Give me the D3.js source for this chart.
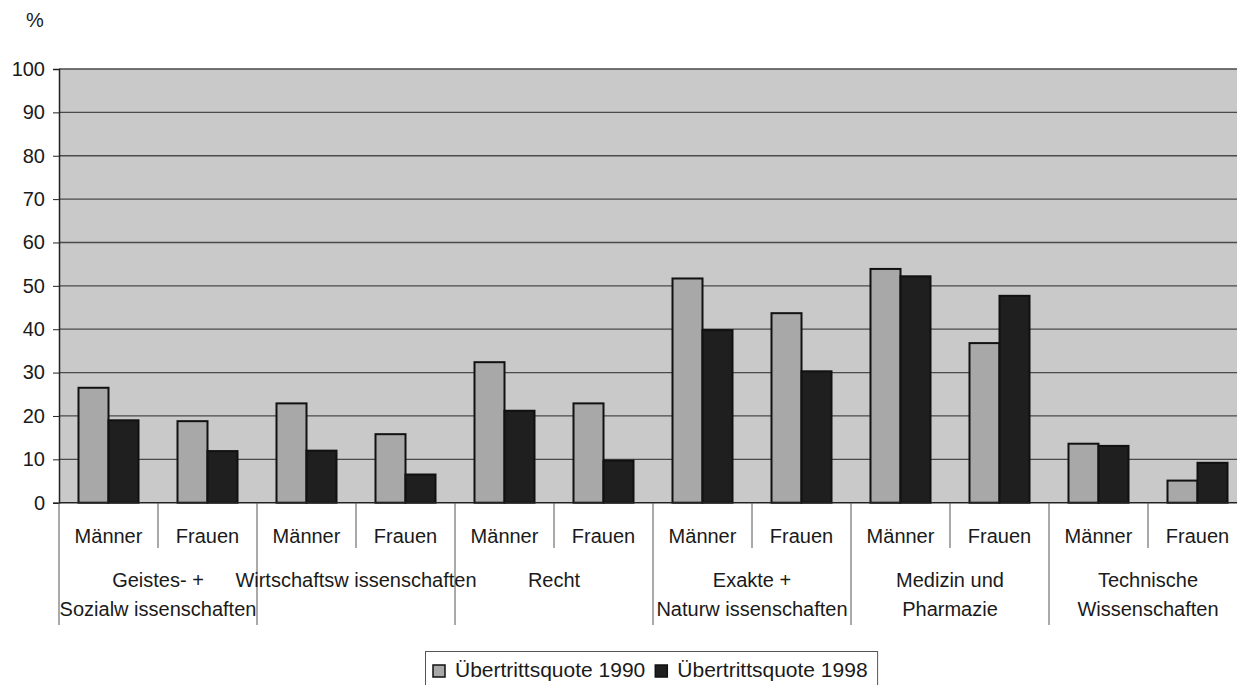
<!DOCTYPE html>
<html><head><meta charset="utf-8">
<script src="https://cdn.jsdelivr.net/npm/d3@7"></script>
<style>
html,body{margin:0;padding:0;background:#fff;overflow:hidden}
text{font-family:"Liberation Sans",Arial,sans-serif;fill:#1a1a1a}
</style></head>
<body>
<svg id="c" width="1237" height="685"></svg>
<script>
// ---- data ----
const groups = [
  ["Geistes- +", "Sozialw issenschaften"],
  ["Wirtschaftsw issenschaften"],
  ["Recht"],
  ["Exakte +", "Naturw issenschaften"],
  ["Medizin und", "Pharmazie"],
  ["Technische", "Wissenschaften"]
];
const genders = ["Männer", "Frauen"];
const seriesNames = ["Übertrittsquote 1990", "Übertrittsquote 1998"];
const v1990 = [26.5, 18.8, 22.9, 15.8, 32.4, 22.9, 51.7, 43.7, 53.9, 36.8, 13.6, 5.1];
const v1998 = [19.0, 11.9, 12.0, 6.5, 21.2, 9.7, 39.8, 30.3, 52.2, 47.7, 13.1, 9.2];
const yTicks = [0, 10, 20, 30, 40, 50, 60, 70, 80, 90, 100];

// ---- build ----
const cats = [];
groups.forEach((g, gi) => genders.forEach((s, si) => cats.push({id: gi + "-" + si, g: gi, label: s})));
const data = cats.map((c, i) => ({...c, vals: [v1990[i], v1998[i]]}));

const svg = d3.select("#c");
const pL = 59, pR = 1247, pT = 69, pB = 502.7;
const x0 = d3.scaleBand().domain(cats.map(c => c.id)).range([pL, pR]).padding(0);
const x1 = d3.scaleBand().domain([0, 1]).range([0, x0.bandwidth()]).paddingInner(0).paddingOuter(0.65);
const y = d3.scaleLinear().domain([0, 100]).range([pB, pT]);
const colors = ["#a8a8a8", "#1f1f1f"];

// background
svg.append("rect").attr("x", pL).attr("y", pT).attr("width", pR - pL).attr("height", pB - pT)
  .attr("fill", "#c9c9c9");

// gridlines
svg.append("g").selectAll("line").data(yTicks.filter(t => t > 0)).join("line")
  .attr("x1", pL).attr("x2", pR).attr("y1", d => y(d)).attr("y2", d => y(d))
  .attr("stroke", "#4a4a4a").attr("stroke-width", 1.3);

// y axis
const yAxis = d3.axisLeft(y).tickValues(yTicks).tickSize(6).tickPadding(8).tickFormat(d3.format("d"));
const ya = svg.append("g").attr("transform", `translate(${pL},0)`).call(yAxis);
ya.select(".domain").attr("stroke", "#222").attr("stroke-width", 1.5);
ya.selectAll(".tick line").attr("stroke", "#222");
ya.selectAll(".tick text").attr("font-size", 20).style("fill", "#1a1a1a");

// bars
const gBars = svg.append("g").selectAll("g").data(data).join("g")
  .attr("transform", d => `translate(${x0(d.id)},0)`);
gBars.selectAll("rect").data(d => d.vals.map((v, i) => ({v, i}))).join("rect")
  .attr("x", d => x1(d.i)).attr("width", x1.bandwidth())
  .attr("y", d => y(d.v)).attr("height", d => y(0) - y(d.v))
  .attr("fill", d => colors[d.i]).attr("stroke", "#111").attr("stroke-width", 2);

// x axis baseline
svg.append("line").attr("x1", pL).attr("x2", pR).attr("y1", pB).attr("y2", pB)
  .attr("stroke", "#222").attr("stroke-width", 1.5);

// category labels + ticks
const xAxis = d3.axisBottom(x0).tickSize(0).tickFormat(id => cats.find(c => c.id === id).label).tickPadding(26);
const xa = svg.append("g").attr("transform", `translate(0,${pB})`).call(xAxis);
xa.select(".domain").remove();
xa.selectAll(".tick text").attr("font-size", 20).style("fill", "#1a1a1a");

// dividers
const divs = [];
cats.forEach((c, i) => divs.push({x: x0(c.id), major: c.label === genders[0]}));
svg.append("g").selectAll("line").data(divs).join("line")
  .attr("x1", d => d.x).attr("x2", d => d.x)
  .attr("y1", pB).attr("y2", d => d.major ? 625 : 548)
  .attr("stroke", "#555").attr("stroke-width", 1);

// group labels
const gl = svg.append("g").selectAll("text").data(groups).join("text")
  .attr("x", (d, i) => x0(i + "-0") + x0.bandwidth())
  .attr("text-anchor", "middle").attr("font-size", 20);
gl.selectAll("tspan").data(d => d).join("tspan")
  .attr("x", function() { return this.parentNode.getAttribute("x"); })
  .attr("y", (d, i) => 587 + i * 29).text(d => d);

// % label
svg.append("text").attr("x", 35).attr("y", 27).attr("text-anchor", "middle").attr("font-size", 20).text("%");

// legend
const lg = svg.append("g");
const box = lg.append("rect").attr("x", 425.5).attr("y", 651.5).attr("height", 40)
  .attr("fill", "#fff").attr("stroke", "#555").attr("stroke-width", 1);
let lx = 433;
seriesNames.forEach((n, i) => {
  lg.append("rect").attr("x", lx).attr("y", 665).attr("width", 12).attr("height", 12)
    .attr("fill", colors[i]).attr("stroke", "#111").attr("stroke-width", 1.5);
  const t = lg.append("text").attr("x", lx + 22).attr("y", 677).attr("font-size", 21).text(n);
  lx = lx + 22 + t.node().getComputedTextLength() + 10;
});
box.attr("width", lx - 425.5);
</script>
</body></html>
